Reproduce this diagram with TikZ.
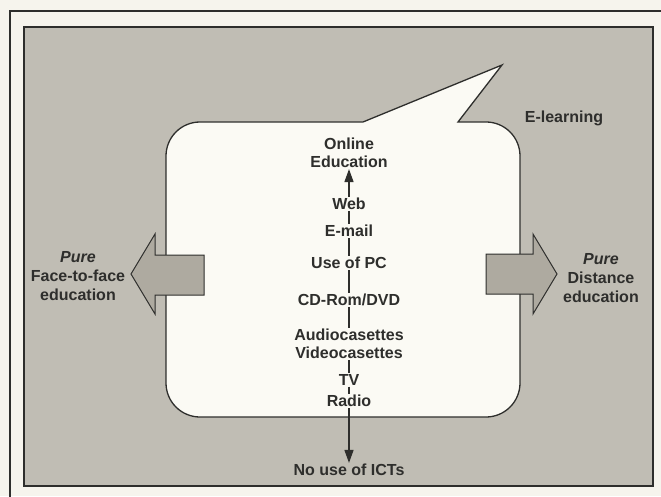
\documentclass[tikz,border=0pt]{standalone}
\usepackage{fontspec}
\setmainfont{Liberation Sans}
\usetikzlibrary{arrows.meta}
\definecolor{paper}{HTML}{F6F4ED}
\definecolor{panel}{HTML}{C0BDB4}
\definecolor{arrowfill}{HTML}{AEAAA0}
\definecolor{bubblefill}{HTML}{FBFAF4}
\definecolor{ink}{HTML}{2E2E2C}
\tikzset{
  lbl/.style={font=\fontsize{16}{18}\selectfont\bfseries, text=ink, align=center, inner sep=1pt},
  sidelbl/.style={lbl, font=\fontsize{16}{19}\selectfont\bfseries},
  link/.style={draw=ink, line width=1.4pt},
  linkarrow/.style={link, -{Triangle[length=13pt,width=9pt]}},
  frameline/.style={draw=ink, line width=1.3pt},
  bigarrow/.style={draw=ink, line width=1pt, fill=arrowfill, line join=miter},
}
\begin{document}
\begin{tikzpicture}[x=1pt,y=1pt]
  % page and cropped outer frame
  \fill[paper] (0,0) rectangle (661,496);
  \clip (0,0) rectangle (661,496);
  \draw[frameline] (10,-5) -- (10,485) -- (670,485);
  % grey panel
  \draw[frameline, line width=1.6pt, fill=panel] (24,10) rectangle (653,469);

  % speech bubble with its tail
  \draw[draw=ink, line width=1.3pt, fill=bubblefill, line join=miter]
    (363,374) -- (502,431) -- (458,374) -- (486,374)
    arc[start angle=90, end angle=0, radius=34pt] -- (520,113)
    arc[start angle=0, end angle=-90, radius=34pt] -- (200,79)
    arc[start angle=270, end angle=180, radius=34pt] -- (166,340)
    arc[start angle=180, end angle=90, radius=34pt] -- cycle;

  % side arrows
  \draw[bigarrow] (131,222) -- (155,262) -- (155,241) -- (204,241)
    -- (204,201) -- (155,201) -- (155,182) -- cycle;
  \draw[bigarrow] (557,222) -- (533,262) -- (533,242) -- (486,242)
    -- (486,202) -- (533,202) -- (533,182) -- cycle;

  % labels
  \node[lbl] (elearn) at (564,378) {E-learning};
  \node[lbl] (online) at (349,343) {Online\\Education};
  \node[lbl] (web)    at (349,292) {Web};
  \node[lbl] (email)  at (349,265) {E-mail};
  \node[lbl] (pc)     at (349,233) {Use of PC};
  \node[lbl] (cd)     at (349,196) {CD-Rom/DVD};
  \node[lbl] (av)     at (349,152) {Audiocasettes\\Videocasettes};
  \node[lbl] (tv)     at (349,116) {TV};
  \node[lbl] (radio)  at (349,95)  {Radio};
  \node[lbl] (noict)  at (349,26)  {No use of ICTs};
  \node[sidelbl] (face) at (78,220) {\itshape Pure\\Face-to-face\\education};
  \node[sidelbl] (dist) at (601,218) {\itshape Pure\\Distance\\education};

  % scale of ICT use
  \draw[linkarrow] (web.north) -- (online.south);
  \draw[link] (web.south) -- (email.north);
  \draw[link] (email.south) -- (pc.north);
  \draw[link] (pc.south) -- (cd.north);
  \draw[link] (cd.south) -- (av.north);
  \draw[link] (av.south) -- (tv.north);
  \draw[link] (tv.south) -- (radio.north);
  \draw[linkarrow] (radio.south) -- (noict.north);
\end{tikzpicture}
\end{document}
